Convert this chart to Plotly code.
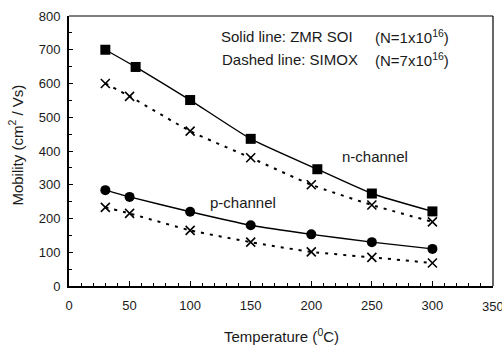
import plotly.graph_objects as go

temps = [30, 55, 100, 150, 205, 250, 300]
temps_b = [30, 50, 100, 150, 200, 250, 300]
n_zmr = [700, 649, 551, 436, 346, 274, 221]
n_simox = [600, 562, 459, 380, 300, 240, 190]
p_zmr = [284, 264, 220, 180, 153, 130, 110]
p_simox = [233, 215, 165, 130, 101, 85, 68]
x_ticks = [0, 50, 100, 150, 200, 250, 300]
y_ticks = list(range(0, 801, 100))

FONT = "Liberation Sans, Arial, sans-serif"
TXT = "#1a1a1a"
fig = go.Figure()

def solid(x, y, sym, size):
    fig.add_trace(go.Scatter(x=x, y=y, mode="lines+markers",
        line=dict(color="black", width=1.4, shape="spline", smoothing=0.5),
        marker=dict(symbol=sym, size=size, color="black"), showlegend=False))

def dashed(x, y):
    fig.add_trace(go.Scatter(x=x, y=y, mode="lines+markers",
        line=dict(color="black", width=2, dash="3px,6px", shape="spline", smoothing=0.5),
        marker=dict(symbol="x-thin-open", size=9, color="black",
                    line=dict(width=1.6, color="black")), showlegend=False))

dashed(temps_b, n_simox)
solid(temps, n_zmr, "square", 10)
dashed(temps_b, p_simox)
solid(temps_b, p_zmr, "circle", 10)

axis_common = dict(showgrid=False, zeroline=False, showline=True, linecolor="black",
                   linewidth=2, ticks="inside", tickcolor="black", mirror=False,
                   tickfont=dict(family=FONT, size=13, color=TXT))

fig.update_xaxes(range=[0, 350], tickmode="array", tickvals=x_ticks,
                 ticklen=5, tickwidth=1, ticklabelstandoff=6,
                 minor=dict(ticks="inside", dtick=10, ticklen=3, tickcolor="black", tickwidth=1),
                 **axis_common)
fig.update_yaxes(range=[0, 800], tickmode="array", tickvals=y_ticks,
                 ticklen=4, tickwidth=1, ticklabelstandoff=4,
                 minor=dict(ticks="inside", dtick=50, ticklen=3, tickcolor="black", tickwidth=1),
                 **axis_common)

# top and right frame
fig.add_shape(type="line", xref="paper", yref="paper", x0=0, x1=1, y0=1, y1=1, line=dict(color="black", width=1.2))
fig.add_shape(type="line", xref="paper", yref="paper", x0=1, x1=1, y0=0, y1=1, line=dict(color="black", width=1.2))

# 350 tick label (cut by the window edge, as in the reference)
fig.add_annotation(x=350, y=0, xref="x", yref="paper", yshift=-20, xanchor="center", yanchor="middle",
                   showarrow=False, text="350", font=dict(family=FONT, size=13, color=TXT))

# axis titles
fig.add_annotation(x=0.5, y=-0.185, xref="paper", yref="paper", xanchor="center", yanchor="middle",
                   showarrow=False, text="Temperature (<sup>0</sup>C)", font=dict(family=FONT, size=15, color=TXT))
fig.add_annotation(x=-0.125, y=0.52, xref="paper", yref="paper", xanchor="center", yanchor="middle",
                   textangle=-90, showarrow=False, text="Mobility (cm<sup>2</sup> / Vs)",
                   font=dict(family=FONT, size=15, color=TXT))

ann_font = dict(family=FONT, size=15, color=TXT)
fig.add_annotation(x=0.353, y=0.925, xref="paper", yref="paper", xanchor="left", yanchor="middle", showarrow=False,
                   text="Solid line: ZMR SOI", font=ann_font)
fig.add_annotation(x=0.717, y=0.925, xref="paper", yref="paper", xanchor="left", yanchor="middle", showarrow=False,
                   text="(N=1x10<sup>16</sup>)", font=ann_font)
fig.add_annotation(x=0.356, y=0.84, xref="paper", yref="paper", xanchor="left", yanchor="middle", showarrow=False,
                   text="Dashed line: SIMOX", font=ann_font)
fig.add_annotation(x=0.717, y=0.84, xref="paper", yref="paper", xanchor="left", yanchor="middle", showarrow=False,
                   text="(N=7x10<sup>16</sup>)", font=ann_font)
fig.add_annotation(x=224, y=383, xanchor="left", yanchor="middle", showarrow=False, text="n-channel", font=ann_font)
fig.add_annotation(x=115, y=247, xanchor="left", yanchor="middle", showarrow=False, text="p-channel", font=ann_font)

fig.update_layout(width=502, height=351, margin=dict(l=69, r=9, t=11, b=65),
                  plot_bgcolor="white", paper_bgcolor="white")
fig.write_html("out.html")
